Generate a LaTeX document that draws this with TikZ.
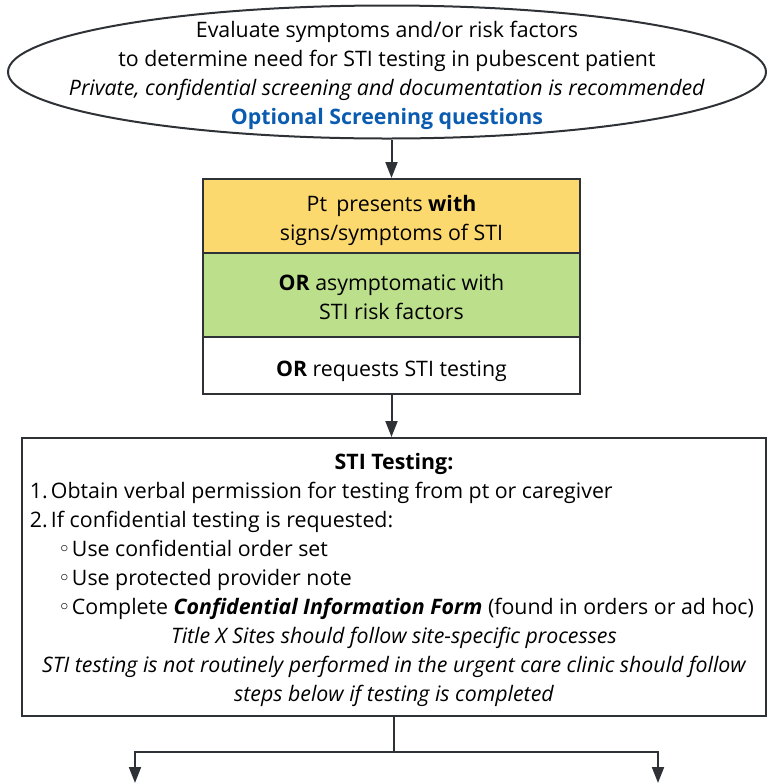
\documentclass[tikz,border=0pt]{standalone}
\usepackage{fontspec}
\setmainfont{Open Sans}
\newfontfamily\symfont{DejaVu Sans}
\usetikzlibrary{arrows.meta,shapes.geometric}
\definecolor{linegray}{HTML}{2E3236}
\definecolor{sympyellow}{HTML}{FCD96F}
\definecolor{riskgreen}{HTML}{BBDF8A}
\definecolor{linkblue}{HTML}{0B5CB0}

\begin{document}
\begin{tikzpicture}[x=0.75pt,y=-0.75pt,
  every node/.style={font=\fontsize{16}{21.75}\selectfont, align=center},
  line/.style={draw=linegray,line width=1.5pt},
  arrow/.style={line,-{Triangle[length=12pt,width=9pt]}},
  stackbox/.style={line,rectangle,minimum width=282.75pt,inner sep=0pt}]
\useasboundingbox (0,0) rectangle (767,783);
% top ellipse
\node [line,ellipse,minimum width=568.5pt,minimum height=99.75pt,inner sep=0pt] (screen) at (387,72) {};
\node (screentext) at (387,75)
  {Evaluate symptoms and/or risk factors\\
   to determine need for STI testing in pubescent patient\\
   \textit{Private, confidential screening and documentation is recommended}\\
   \textcolor{linkblue}{\textbf{Optional Screening questions}}};
% stacked presentation boxes
\node [stackbox,fill=sympyellow,minimum height=55.5pt] (symptoms) at (391.5,216) {};
\node [stackbox,fill=riskgreen,minimum height=63pt] (risk) at (391.5,295) {};
\node [stackbox,fill=white,minimum height=42.75pt] (request) at (391.5,365.5) {};
\node (symptomstext) at (391.5,220) {Pt\hspace{7pt}presents \textbf{with}\\ signs/symptoms of STI};
\node (risktext) at (391.5,297) {\textbf{OR} asymptomatic with\\ STI risk factors};
\node (requesttext) at (391.5,371.5) {\textbf{OR} requests STI testing};
% testing box
\node [line,rectangle,minimum width=558pt,minimum height=208.5pt,inner sep=0pt] (testing) at (394,577)
  {\begin{minipage}{546pt}
   \vspace{4.5pt}
   {\centering\textbf{STI Testing:}\par}
   {\raggedright
   \makebox[15.75pt][l]{1.}Obtain verbal permission for testing from pt or caregiver\par
   \makebox[15.75pt][l]{2.}If confidential testing is requested:\par
   \hspace{21pt}\makebox[10.5pt][l]{\symfont ◦}Use confidential order set\par
   \hspace{21pt}\makebox[10.5pt][l]{\symfont ◦}Use protected provider note\par
   \hspace{21pt}\makebox[10.5pt][l]{\symfont ◦}Complete \textbf{\textit{Confidential Information Form}} (found in orders or ad hoc)\par}
   {\centering\itshape Title X Sites should follow site-specific processes\\
   STI testing is not routinely performed in the urgent care clinic should follow\\
   steps below if testing is completed\par}
   \end{minipage}};
\coordinate (split) at (394,752);
\coordinate (leftend) at (135,783);
\coordinate (rightend) at (658,783);
\draw [arrow] (screen.south -| symptoms.north) -- (symptoms.north);
\draw [arrow] (request.south) -- (testing.north -| request.south);
\draw [line] (testing.south) -- (split);
\draw [arrow] (split) -| (leftend);
\draw [arrow] (split) -| (rightend);
\end{tikzpicture}
\end{document}
